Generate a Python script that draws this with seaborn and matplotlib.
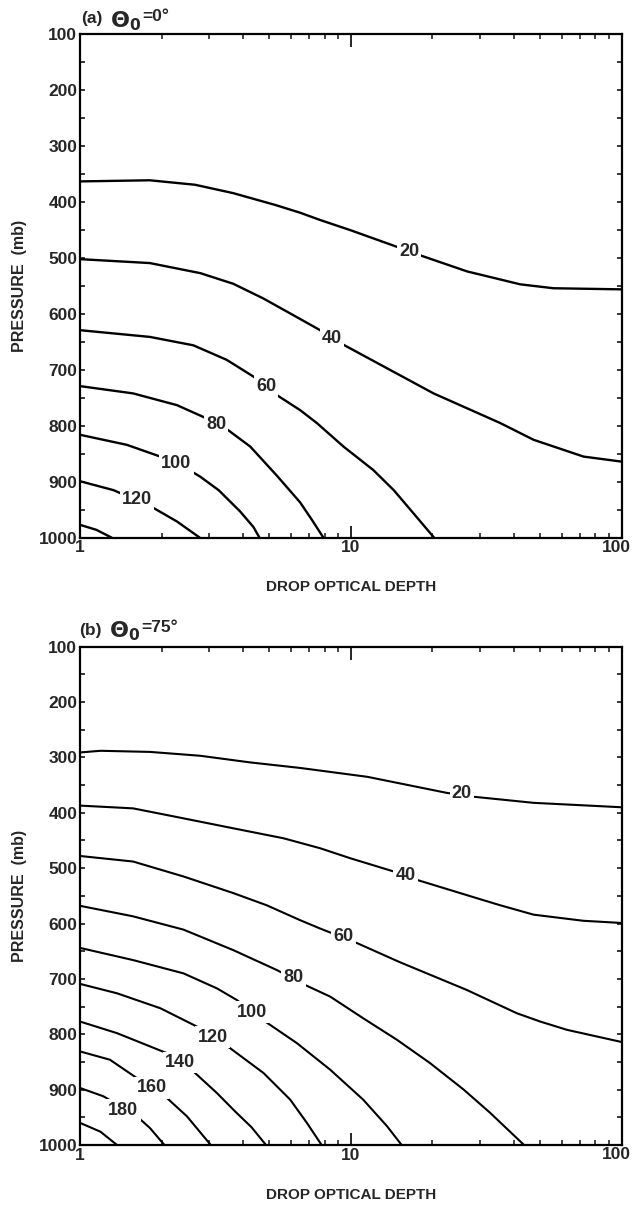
import numpy as np
import pandas as pd
import matplotlib
matplotlib.use("Agg")
import matplotlib.pyplot as plt
from matplotlib.ticker import FixedLocator, NullFormatter, LogLocator
import seaborn as sns

# ---------------- data: panel (a) theta0 = 0 deg ----------------
A_TAU_20 = [1, 1.81, 2.66, 3.68, 5.25, 6.50, 7.70, 9.94, 14.8, 18.5, 26.9, 42.2, 55.9, 100]
A_P_20 = [363, 361, 369, 384, 405, 419, 432, 450, 480, 497, 524, 547, 554, 556]
A_TAU_40 = [1, 1.81, 2.78, 3.68, 4.74, 6.50, 7.70, 9.39, 20.2, 35.6, 47.3, 72.3, 100]
A_P_40 = [502, 509, 527, 546, 572, 609, 629, 655, 742, 795, 825, 855, 864]
A_TAU_60 = [1, 1.81, 2.62, 3.48, 4.37, 5.33, 6.50, 7.49, 9.39, 12.1, 14.4, 17.0, 20.3]
A_P_60 = [629, 641, 656, 682, 712, 745, 772, 795, 837, 879, 915, 956, 1000]
A_TAU_80 = [1, 1.57, 2.28, 2.85, 3.53, 4.25, 5.33, 6.50, 7.18, 7.92]
A_P_80 = [729, 742, 763, 784, 808, 837, 889, 937, 968, 1000]
A_TAU_100 = [1, 1.49, 1.98, 2.55, 2.78, 3.25, 3.90, 4.37, 4.60]
A_P_100 = [816, 834, 855, 880, 891, 915, 953, 981, 1000]
A_TAU_120 = [1, 1.33, 1.84, 2.28, 2.77]
A_P_120 = [899, 915, 945, 971, 1000]
A_TAU_140 = [1, 1.15, 1.31]
A_P_140 = [977, 986, 1000]

A_LABELS = ["20", "40", "60", "80", "100", "120"]
A_LABEL_TAU = [16.4, 8.53, 4.87, 3.18, 2.27, 1.62]
A_LABEL_P = [489, 644, 729, 797, 868, 931]

# ---------------- data: panel (b) theta0 = 75 deg ----------------
B_TAU_20 = [1, 1.19, 1.81, 2.78, 4.25, 6.50, 11.5, 22.6, 28.4, 47.3, 100]
B_P_20 = [291, 288, 290, 297, 309, 319, 335, 364, 371, 382, 390]
B_TAU_40 = [1, 1.57, 2.41, 3.68, 5.64, 7.70, 9.94, 14.4, 17.5, 30.0, 35.6, 47.3, 72.1, 100]
B_P_40 = [387, 392, 410, 428, 446, 464, 482, 506, 521, 556, 567, 584, 595, 599]
B_TAU_60 = [1, 1.57, 2.41, 3.68, 4.89, 6.50, 7.70, 10.5, 15.2, 26.8, 41.0, 50.0, 62.8, 100]
B_P_60 = [478, 488, 515, 545, 567, 594, 609, 635, 670, 720, 762, 777, 792, 814]
B_TAU_80 = [1, 1.57, 2.41, 3.68, 5.33, 6.78, 8.39, 11.1, 14.8, 19.6, 26.1, 32.7, 43.6]
B_P_80 = [568, 587, 611, 648, 684, 711, 732, 771, 810, 852, 900, 942, 1000]
B_TAU_100 = [1, 1.57, 2.41, 3.20, 3.79, 4.83, 6.32, 8.39, 11.1, 13.6, 15.4]
B_P_100 = [644, 666, 690, 717, 738, 777, 816, 864, 918, 966, 1000]
B_TAU_120 = [1, 1.37, 1.98, 2.70, 3.58, 4.76, 5.97, 6.88, 7.80]
B_P_120 = [709, 726, 753, 786, 825, 870, 918, 960, 1000]
B_TAU_140 = [1, 1.37, 2.09, 2.62, 3.20, 3.75, 4.30, 4.86]
B_P_140 = [777, 798, 834, 867, 906, 940, 968, 1000]
B_TAU_160 = [1, 1.29, 1.62, 2.06, 2.48, 3.04]
B_P_160 = [831, 846, 879, 912, 948, 1000]
B_TAU_180 = [1, 1.22, 1.62, 1.81, 2.05]
B_P_180 = [897, 912, 948, 969, 1000]
B_TAU_200 = [1, 1.19, 1.37]
B_P_200 = [960, 976, 1000]

B_LABELS = ["20", "40", "60", "80", "100", "120", "140", "160", "180"]
B_LABEL_TAU = [25.7, 15.9, 9.39, 6.14, 4.31, 3.09, 2.34, 1.84, 1.445]
B_LABEL_P = [366, 514, 623, 698, 760, 805, 851, 897, 937]

X_TICKS = [1, 10, 100]
X_TICKLABELS = ["1", "10", "100"]
Y_TICKS = [100, 200, 300, 400, 500, 600, 700, 800, 900, 1000]
Y_TICKLABELS = [str(v) for v in Y_TICKS]


def frame(series):
    rows = []
    for lev, taus, ps in series:
        for t, p in zip(taus, ps):
            rows.append({"level": lev, "tau": t, "p": p})
    return pd.DataFrame(rows)


A_DF = frame([(20, A_TAU_20, A_P_20), (40, A_TAU_40, A_P_40), (60, A_TAU_60, A_P_60),
              (80, A_TAU_80, A_P_80), (100, A_TAU_100, A_P_100), (120, A_TAU_120, A_P_120),
              (140, A_TAU_140, A_P_140)])
B_DF = frame([(20, B_TAU_20, B_P_20), (40, B_TAU_40, B_P_40), (60, B_TAU_60, B_P_60),
              (80, B_TAU_80, B_P_80), (100, B_TAU_100, B_P_100), (120, B_TAU_120, B_P_120),
              (140, B_TAU_140, B_P_140), (160, B_TAU_160, B_P_160), (180, B_TAU_180, B_P_180),
              (200, B_TAU_200, B_P_200)])

sns.set_theme(style="ticks", rc={
    "axes.linewidth": 1.6,
    "xtick.direction": "in", "ytick.direction": "in",
    "xtick.top": True, "ytick.right": True,
})
plt.rcParams["font.family"] = ["Liberation Sans", "DejaVu Sans"]

W, H = 632, 1206
fig = plt.figure(figsize=(W / 100, H / 100), dpi=100)
fig.patch.set_facecolor("white")


def rect(l, t, r, b):
    return [l / W, 1 - b / H, (r - l) / W, (b - t) / H]


def style_axes(ax, labelpad_x):
    ax.set_xscale("log")
    ax.set_xlim(1, 100)
    ax.set_ylim(1000, 100)
    ax.xaxis.set_major_locator(FixedLocator(X_TICKS))
    # last label is drawn separately so it stays inside the picture
    ax.set_xticklabels(X_TICKLABELS[:-1] + [""])
    ax.annotate(X_TICKLABELS[-1], xy=(X_TICKS[-1], 1000), xycoords="data",
                xytext=(-3.5, -1.5), textcoords="offset points", ha="center", va="top",
                fontsize=12.5, fontweight="bold", annotation_clip=False)
    ax.xaxis.set_minor_locator(LogLocator(base=10, subs=np.arange(2, 10)))
    ax.xaxis.set_minor_formatter(NullFormatter())
    ax.yaxis.set_major_locator(FixedLocator(Y_TICKS))
    ax.set_yticklabels(Y_TICKLABELS)
    ax.yaxis.set_minor_locator(FixedLocator([v + 50 for v in Y_TICKS[:-1]]))
    ax.tick_params(axis="x", which="major", length=9, width=1.4, pad=2,
                   labelsize=12.5, top=True, bottom=True)
    ax.tick_params(axis="x", which="minor", length=3.6, width=1.2, top=True, bottom=True)
    ax.tick_params(axis="y", which="both", length=3.6, width=1.3, pad=2,
                   labelsize=12.5, left=True, right=True)
    for lab in ax.get_xticklabels() + ax.get_yticklabels():
        lab.set_fontweight("bold")
    ax.set_xlabel("DROP OPTICAL DEPTH", fontsize=11, fontweight="bold", labelpad=labelpad_x)
    ax.set_ylabel("PRESSURE  (mb)", fontsize=11.5, fontweight="bold", labelpad=8)
    for s in ax.spines.values():
        s.set_visible(True)
        s.set_linewidth(1.6)
        s.set_color("black")
    ax.set_facecolor("white")


def draw(ax, df, labels, ltau, lp, lw):
    sns.lineplot(data=df, x="tau", y="p", units="level", estimator=None, sort=False,
                 color="black", linewidth=lw, legend=False, ax=ax,
                 solid_capstyle="round", solid_joinstyle="round")
    for txt, t, p in zip(labels, ltau, lp):
        ax.text(t, p, txt, fontsize=13, fontweight="bold", ha="center", va="center",
                zorder=5, bbox=dict(boxstyle="square,pad=0.12", fc="white", ec="none"))


ax_a = fig.add_axes(rect(80, 34.3, 621.7, 537.7))
draw(ax_a, A_DF, A_LABELS, A_LABEL_TAU, A_LABEL_P, 1.7)
style_axes(ax_a, 18)

ax_b = fig.add_axes(rect(80, 646.7, 621.7, 1145))
draw(ax_b, B_DF, B_LABELS, B_LABEL_TAU, B_LABEL_P, 1.5)
style_axes(ax_b, 18)


def ftext(x, y, s, size, **kw):
    fig.text(x / W, 1 - y / H, s, fontsize=size, ha="left", va="baseline", **kw)


# panel titles
ftext(81, 23, "(a)", 12.5, fontweight="bold")
ftext(110, 27, r"$\mathbf{\Theta_0}$", 16)
ftext(142, 21, "=0°", 12.5, fontweight="bold")

ftext(79, 635, "(b)", 12.5, fontweight="bold")
ftext(109, 637, r"$\mathbf{\Theta_0}$", 16)
ftext(141, 632, "=75°", 12.5, fontweight="bold")

fig.savefig("out.png", dpi=100, facecolor="white")
